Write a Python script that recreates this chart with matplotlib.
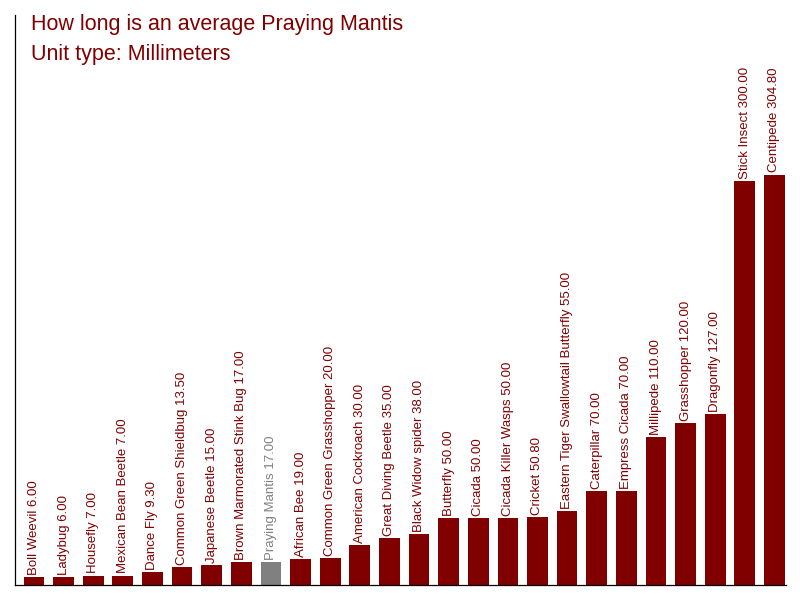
import matplotlib
matplotlib.use("Agg")
import matplotlib.pyplot as plt

# Datos
insects = [
    "Boll Weevil", "Ladybug", "Housefly", "Mexican Bean Beetle", "Dance Fly",
    "Common Green Shieldbug", "Japanese Beetle", "Brown Marmorated Stink Bug",
    "Praying Mantis", "African Bee", "Common Green Grasshopper",
    "American Cockroach", "Great Diving Beetle", "Black Widow spider",
    "Butterfly", "Cicada", "Cicada Killer Wasps", "Cricket",
    "Eastern Tiger Swallowtail Butterfly", "Caterpillar", "Empress Cicada",
    "Millipede", "Grasshopper", "Dragonfly", "Stick Insect", "Centipede",
]
lengths_mm = [
    6.00, 6.00, 7.00, 7.00, 9.30, 13.50, 15.00, 17.00, 17.00, 19.00, 20.00,
    30.00, 35.00, 38.00, 50.00, 50.00, 50.00, 50.80, 55.00, 70.00, 70.00,
    110.00, 120.00, 127.00, 300.00, 304.80,
]
highlight = "Praying Mantis"

RED = "#800000"
GREY = "#808080"

plt.rcParams["font.family"] = ["Liberation Sans", "DejaVu Sans"]

fig = plt.figure(figsize=(8, 6), dpi=100)
ax = fig.add_axes([15 / 800, 15 / 600, 771 / 800, 570 / 600])

colors = [GREY if name == highlight else RED for name in insects]
x = list(range(len(insects)))
bars = ax.bar(x, lengths_mm, width=0.7, color=colors)

for xi, name, val, col in zip(x, insects, lengths_mm, colors):
    ax.annotate(
        f"{name} {val:.2f}",
        xy=(xi, val),
        xytext=(0, 1.5),
        textcoords="offset points",
        rotation=90,
        ha="center",
        va="bottom",
        fontsize=9.5,
        color=col,
    )

ax.set_xlim(-0.64, 25.39)
ax.set_ylim(0, 423.3)
ax.set_xticks([])
ax.set_yticks([])
for side in ["top", "right"]:
    ax.spines[side].set_visible(False)
for side in ["left", "bottom"]:
    ax.spines[side].set_linewidth(0.9)
    ax.spines[side].set_color("black")

fig.text(31 / 800, 1 - 30 / 600, "How long is an average Praying Mantis",
         fontsize=15.5, color=RED, ha="left", va="baseline")
fig.text(31 / 800, 1 - 60 / 600, "Unit type: Millimeters",
         fontsize=15.5, color=RED, ha="left", va="baseline")

fig.savefig("out.png", dpi=100)
